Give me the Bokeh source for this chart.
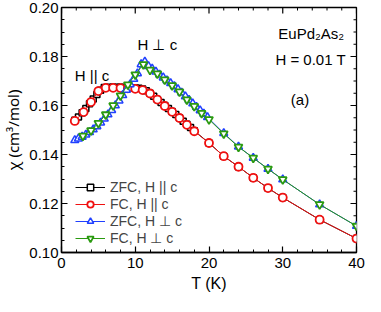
import math
from bokeh.plotting import figure
from bokeh.models import (Range1d, SingleIntervalTicker, PrintfTickFormatter,
                          Label, Legend, LegendItem)
from bokeh.embed import file_html
from bokeh.resources import INLINE

# ZFC, H || c
T_zfc_par = [1.8, 2.3, 2.8, 3.3, 3.8, 4.3, 4.8, 5.3, 5.8, 6.5, 7.0, 7.5, 8.0, 8.5, 9.0, 9.5,
             10.0, 10.5, 11.0, 11.5, 12.0, 12.5, 13.0, 13.5, 14.0, 14.5, 15.0, 15.5, 16.0,
             16.5, 17.0, 17.5, 18.0, 20, 22, 24, 26, 28, 30, 35, 40]
chi_zfc_par = [0.1540, 0.1553, 0.1570, 0.1588, 0.1607, 0.1627, 0.1645, 0.1662, 0.1673, 0.1675,
               0.1675, 0.1674, 0.1674, 0.1673, 0.1673, 0.1672, 0.1671, 0.1670, 0.1667, 0.1660,
               0.1650, 0.1638, 0.1625, 0.1612, 0.1600, 0.1588, 0.1576, 0.1563, 0.1550, 0.1536,
               0.1523, 0.1510, 0.1497, 0.1447, 0.1393, 0.1350, 0.1305, 0.1263, 0.1224, 0.1134,
               0.1057]
# FC, H || c
T_fc_par = [1.8, 3, 4, 5, 6, 7, 8, 9, 10, 11, 12, 13, 14, 15, 16, 17, 18, 20, 22, 24, 26, 28, 30, 35, 40]
chi_fc_par = [0.1537, 0.1573, 0.1614, 0.1659, 0.1672, 0.1672, 0.1671, 0.1670, 0.1668, 0.1663,
              0.1649, 0.1624, 0.1598, 0.1574, 0.1549, 0.1521, 0.1495, 0.1447, 0.1393, 0.1350,
              0.1305, 0.1263, 0.1224, 0.1134, 0.1057]
# ZFC, H perp c
T_zfc_perp = [1.8, 2.3, 2.8, 3.3, 3.8, 4.3, 4.8, 5.3, 5.8, 6.3, 6.8, 7.3, 7.8, 8.3, 8.8, 9.3,
              9.8, 10.3, 10.8, 11.3, 11.8, 12.3, 12.8, 13.3, 13.8, 14.3, 14.8, 15.3, 15.8,
              16.3, 16.8, 17.3, 17.8, 18.3, 18.8, 19.3, 19.8, 22, 24, 26, 28, 30, 35, 40]
chi_zfc_perp = [0.1458, 0.1465, 0.1472, 0.1481, 0.1491, 0.1502, 0.1515, 0.1530, 0.1546, 0.1563,
                0.1581, 0.1600, 0.1620, 0.1642, 0.1664, 0.1686, 0.1708, 0.1731, 0.1768, 0.1779,
                0.1760, 0.1750, 0.1738, 0.1726, 0.1714, 0.1702, 0.1691, 0.1679, 0.1666, 0.1652,
                0.1637, 0.1622, 0.1608, 0.1594, 0.1580, 0.1566, 0.1552, 0.1487, 0.1432, 0.1386,
                0.1341, 0.1298, 0.1196, 0.1108]
# FC, H perp c
T_fc_perp = [2.9, 4, 5, 6, 7, 8, 9, 10, 11.1, 12, 13, 14, 15, 16, 17, 18, 19, 20, 22, 24, 26, 28, 30, 35, 40]
chi_fc_perp = [0.1476, 0.1498, 0.1528, 0.1563, 0.1600, 0.1640, 0.1685, 0.1726, 0.1768, 0.1745,
               0.1730, 0.1705, 0.1682, 0.1656, 0.1624, 0.1597, 0.1569, 0.1543, 0.1485, 0.1431,
               0.1386, 0.1341, 0.1298, 0.1196, 0.1108]

labels = ["ZFC, H || c", "FC, H || c", "ZFC, H \u22a5 c", "FC, H \u22a5 c"]

# tick positions for the mirrored (top / right) tick marks
x_major_ticks = [0, 10, 20, 30, 40]
x_minor_ticks = [2, 4, 6, 8, 12, 14, 16, 18, 22, 24, 26, 28, 32, 34, 36, 38]
y_major_ticks = [0.10, 0.12, 0.14, 0.16, 0.18, 0.20]
y_minor_ticks = [0.105, 0.11, 0.115, 0.125, 0.13, 0.135, 0.145, 0.15, 0.155,
                 0.165, 0.17, 0.175, 0.185, 0.19, 0.195]

FONT = "Liberation Sans"

p = figure(width=365, height=296, output_backend="svg", toolbar_location=None,
           x_range=Range1d(0, 40), y_range=Range1d(0.10, 0.20),
           min_border_left=58, min_border_right=9, min_border_top=7, min_border_bottom=44)
p.grid.visible = False
p.outline_line_color = "black"
p.outline_line_width = 1.3
p.background_fill_color = "white"
p.border_fill_color = "white"


def style_axis(ax):
    ax.major_tick_in = 6
    ax.major_tick_out = 0
    ax.minor_tick_in = 3
    ax.minor_tick_out = 0
    ax.axis_line_color = "black"
    ax.axis_line_width = 1.3
    ax.major_tick_line_width = 1.2
    ax.minor_tick_line_width = 1.0
    ax.major_label_text_font = FONT
    ax.major_label_text_color = "black"
    ax.axis_label_text_font = FONT
    ax.axis_label_text_font_style = "normal"
    ax.axis_label_text_color = "black"


xax = p.xaxis[0]
xax.ticker = SingleIntervalTicker(interval=10, num_minor_ticks=5)
style_axis(xax)
xax.major_label_text_font_size = "15px"
xax.major_label_standoff = 5
xax.axis_label = "T (K)"
xax.axis_label_text_font_size = "16px"
xax.axis_label_standoff = 4

yax = p.yaxis[0]
yax.ticker = SingleIntervalTicker(interval=0.02, num_minor_ticks=4)
yax.formatter = PrintfTickFormatter(format="%.2f")
style_axis(yax)
yax.major_label_text_font_size = "15px"
yax.major_label_standoff = 3
yax.axis_label = "\u03c7 (cm\u00b3/mol)"
yax.axis_label_text_font = "Noto Sans"
yax.axis_label_text_font_size = "15px"
yax.axis_label_standoff = 3

# mirrored ticks on right and top sides
p.ray(x=[40] * len(y_major_ticks), y=y_major_ticks, length=6, length_units="screen",
      angle=math.pi, line_color="black", line_width=1.2)
p.ray(x=[40] * len(y_minor_ticks), y=y_minor_ticks, length=3, length_units="screen",
      angle=math.pi, line_color="black", line_width=1.0)
p.ray(x=x_major_ticks, y=[0.20] * len(x_major_ticks), length=6, length_units="screen",
      angle=-math.pi / 2, line_color="black", line_width=1.2)
p.ray(x=x_minor_ticks, y=[0.20] * len(x_minor_ticks), length=3, length_units="screen",
      angle=-math.pi / 2, line_color="black", line_width=1.0)

black = "#000000"
red = "#f01010"
blue = "#2040ff"
green = "#2a9a10"

l1 = p.line(T_zfc_par, chi_zfc_par, line_color=black, line_width=1)
s1 = p.scatter(T_zfc_par, chi_zfc_par, marker="square", size=6, fill_color="white",
               line_color=black, line_width=1.5)
l2 = p.line(T_fc_par, chi_fc_par, line_color=red, line_width=1)
s2 = p.scatter(T_fc_par, chi_fc_par, marker="circle", size=8, fill_color="white",
               line_color=red, line_width=1.8)
l3 = p.line(T_zfc_perp, chi_zfc_perp, line_color=blue, line_width=1)
s3 = p.scatter(T_zfc_perp, chi_zfc_perp, marker="triangle", size=8, fill_color="white",
               line_color=blue, line_width=1.5)
l4 = p.line(T_fc_perp, chi_fc_perp, line_color=green, line_width=1)
s4 = p.scatter(T_fc_perp, chi_fc_perp, marker="inverted_triangle", size=8, fill_color="white",
               line_color=green, line_width=1.8)

legend = Legend(items=[LegendItem(label=labels[0], renderers=[l1, s1]),
                       LegendItem(label=labels[1], renderers=[l2, s2]),
                       LegendItem(label=labels[2], renderers=[l3, s3]),
                       LegendItem(label=labels[3], renderers=[l4, s4])],
                location=(14, 6), border_line_color=None, background_fill_alpha=0,
                padding=0, margin=0, spacing=1, label_text_font=FONT,
                label_text_font_size="14px", glyph_width=30, glyph_height=16,
                label_height=16, label_standoff=5)
p.add_layout(legend)

ann = [("H || c", 1.8, 0.1724), ("H \u22a5 c", 10.3, 0.1849),
       ("EuPd\u2082As\u2082", 29.4, 0.1895), ("H = 0.01 T", 29.0, 0.1788), ("(a)", 31.1, 0.1624)]
for txt, x, y in ann:
    p.add_layout(Label(x=x, y=y, text=txt, text_font=FONT, text_font_size="15px",
                       text_baseline="middle", text_align="left", text_color="black"))

open("out.html", "w").write(file_html(p, INLINE))
